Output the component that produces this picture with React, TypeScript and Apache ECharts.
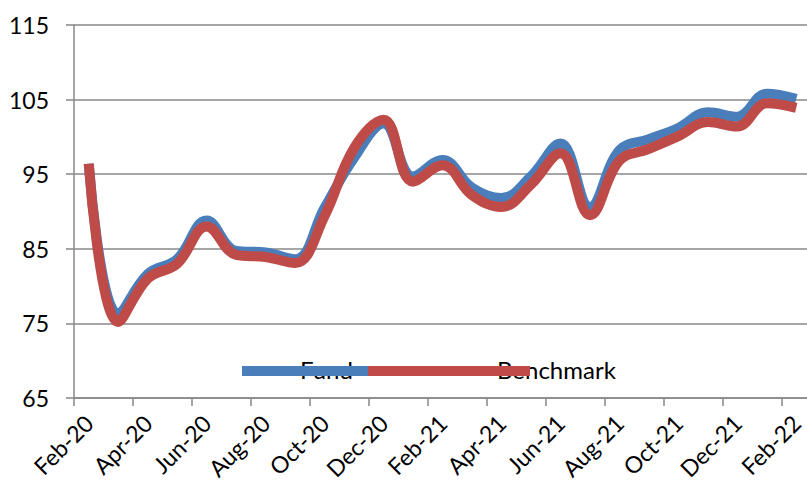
import React, { useEffect, useRef } from "react";
import * as echarts from "echarts";

const months = [
  "Feb-20", "Mar-20", "Apr-20", "May-20", "Jun-20", "Jul-20", "Aug-20", "Sep-20",
  "Oct-20", "Nov-20", "Dec-20", "Jan-21", "Feb-21", "Mar-21", "Apr-21", "May-21",
  "Jun-21", "Jul-21", "Aug-21", "Sep-21", "Oct-21", "Nov-21", "Dec-21", "Jan-22", "Feb-22",
];

const fund = [
  96.4, 76.2, 81.6, 83.6, 88.8, 84.7, 84.5, 83.6,
  90.5, 97.2, 101.8, 94.7, 96.9, 93.2, 91.8, 94.7,
  99.1, 90.6, 98.2, 99.7, 101.2, 103.3, 102.7, 105.8, 105.1,
];

const benchmark = [
  96.4, 75.2, 81.0, 83.0, 88.0, 84.2, 83.9, 83.1,
  89.4, 98.5, 102.3, 94.0, 96.2, 92.2, 90.6, 93.6,
  97.8, 89.5, 96.8, 98.4, 100.1, 102.0, 101.4, 104.5, 103.9,
];

const seriesNames = ["Fund", "Benchmark"];
const colors = ["#4A7EBB", "#BE4B48"];
const FONT = "Lato, 'Noto Sans', sans-serif";

export default function App() {
  const ref = useRef<HTMLDivElement>(null);
  useEffect(() => {
    document.body.style.margin = "0";
    const chart = echarts.init(ref.current!, null, { renderer: "svg" });
    chart.setOption({
      animation: false,
      backgroundColor: "#ffffff",
      grid: {
        left: 74,
        right: -4,
        top: 25,
        bottom: 85,
        containLabel: false,
        outerBoundsMode: "none",
      },
      legend: [
        {
          data: [seriesNames[0]],
          left: 280,
          top: 352,
          icon: "none",
          itemWidth: 10,
          itemHeight: 10,
          textStyle: { fontFamily: FONT, fontSize: 24, color: "#000" },
          selectedMode: false,
        },
        {
          data: [seriesNames[1]],
          left: 477,
          top: 352,
          icon: "none",
          itemWidth: 10,
          itemHeight: 10,
          textStyle: { fontFamily: FONT, fontSize: 24, color: "#000" },
          selectedMode: false,
        },
      ],
      graphic: [
        { type: "rect", z: 100, shape: { x: 242, y: 366, width: 126, height: 10 }, style: { fill: colors[0] } },
        { type: "rect", z: 100, shape: { x: 368, y: 366, width: 162, height: 10 }, style: { fill: colors[1] } },
      ],
      xAxis: {
        type: "category",
        data: months,
        boundaryGap: true,
        axisLine: { lineStyle: { color: "#888", width: 1.5 } },
        axisTick: { show: true, interval: 1, length: 8, lineStyle: { color: "#888", width: 1.5 } },
        axisLabel: {
          interval: 1,
          rotate: 45,
          margin: 21,
          fontFamily: FONT,
          fontSize: 23,
          color: "#000",
          hideOverlap: false,
        },
        splitLine: { show: false },
      },
      yAxis: {
        type: "value",
        min: 65,
        max: 115,
        interval: 10,
        axisLine: { show: true, lineStyle: { color: "#888", width: 1.5 } },
        axisTick: { show: true, length: 8, lineStyle: { color: "#888", width: 1.5 } },
        axisLabel: { margin: 25, fontFamily: FONT, fontSize: 23, color: "#000" },
        splitLine: { show: true, lineStyle: { color: "#888", width: 1.5 } },
      },
      series: [
        {
          name: seriesNames[0],
          type: "line",
          data: fund,
          smooth: 0.4,
          symbol: "none",
          lineStyle: { color: colors[0], width: 10 },
          itemStyle: { color: colors[0] },
          z: 2,
        },
        {
          name: seriesNames[1],
          type: "line",
          data: benchmark,
          smooth: 0.4,
          symbol: "none",
          lineStyle: { color: colors[1], width: 10 },
          itemStyle: { color: colors[1] },
          z: 3,
        },
      ],
    });
    return () => chart.dispose();
  }, []);
  return <div ref={ref} style={{ width: 807, height: 483 }} />;
}
